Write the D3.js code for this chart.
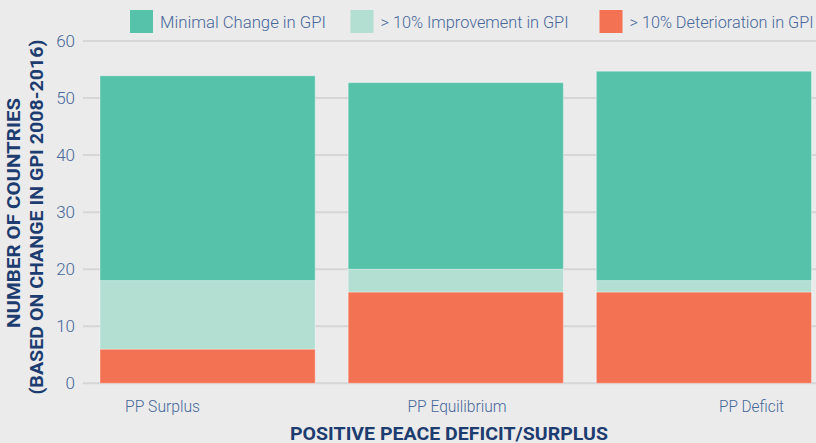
<!DOCTYPE html>
<html>
<head>
<meta charset="utf-8">
<script src="https://cdn.jsdelivr.net/npm/d3@7"></script>
<style>
  html, body { margin: 0; padding: 0; background: #ebebeb; }
  svg { display: block; }
  text { font-family: Roboto, "Open Sans", sans-serif; }
</style>
</head>
<body>
<svg id="chart" width="816" height="443"></svg>
<script>
// Countries by change in GPI (2008-2016), grouped by Positive Peace position
const categories = ["PP Surplus", "PP Equilibrium", "PP Deficit"];
const seriesNames = ["> 10% Deterioration in GPI", "> 10% Improvement in GPI", "Minimal Change in GPI"];
const deterioration = [6, 16, 16];
const improvement = [12, 4, 2];
const minimalChange = [35.9, 32.7, 36.7];
const yTicks = [0, 10, 20, 30, 40, 50, 60];
const legendOrder = ["Minimal Change in GPI", "> 10% Improvement in GPI", "> 10% Deterioration in GPI"];

const colors = {
  "Minimal Change in GPI": "#56c2aa",
  "> 10% Improvement in GPI": "#b2dfd2",
  "> 10% Deterioration in GPI": "#f37254"
};

const W = 816, H = 443;
const svg = d3.select("#chart");

const rows = categories.map((c, i) => ({
  category: c,
  "> 10% Deterioration in GPI": deterioration[i],
  "> 10% Improvement in GPI": improvement[i],
  "Minimal Change in GPI": minimalChange[i]
}));
const stacked = d3.stack().keys(seriesNames)(rows);

const y = d3.scaleLinear().domain([0, 60]).range([383.3, 41]);
const x = d3.scaleBand().domain(categories).range([83.5, 828]).paddingInner(0.133).paddingOuter(0.0665);
// category labels sit on their own evenly spaced positions
const xLabel = d3.scalePoint().domain(categories).range([162, 751]);
const labelW = [75, 99, 65];

// grid lines
svg.append("g").selectAll("line").data(yTicks).join("line")
  .attr("x1", 83).attr("x2", W)
  .attr("y1", d => y(d)).attr("y2", d => y(d))
  .attr("stroke", "#d6d6d6").attr("stroke-width", 2);

// y tick labels
const yAxis = d3.axisLeft(y).tickValues(yTicks).tickSize(0).tickPadding(0);
const gy = svg.append("g").attr("transform", "translate(75,0)").call(yAxis);
gy.select(".domain").remove();
gy.selectAll("text")
  .attr("fill", "#46679a").attr("font-size", 17).attr("font-weight", 300)
  .style("font-family", "Roboto, sans-serif");

// stacked bars
svg.append("g").selectAll("g").data(stacked).join("g")
  .attr("fill", d => colors[d.key])
  .selectAll("rect").data(d => d).join("rect")
  .attr("x", d => x(d.data.category))
  .attr("width", x.bandwidth())
  .attr("y", d => y(d[1]))
  .attr("height", d => y(d[0]) - y(d[1]))
  .attr("stroke", "rgba(255,255,255,0.35)").attr("stroke-width", 1);

// category labels
const xAxis = d3.axisBottom(xLabel).tickSize(0).tickPadding(0);
const gx = svg.append("g").attr("transform", "translate(0,401)").call(xAxis);
gx.select(".domain").remove();
gx.selectAll("text")
  .attr("fill", "#46679a").attr("font-size", 16).attr("font-weight", 300)
  .attr("textLength", (d, i) => labelW[i]).attr("lengthAdjust", "spacingAndGlyphs")
  .style("font-family", "Roboto, sans-serif");

// axis titles
svg.append("text")
  .attr("x", 449).attr("y", 440)
  .attr("text-anchor", "middle")
  .attr("fill", "#1d3c70").attr("font-size", 18).attr("font-weight", 700)
  .attr("textLength", 318).attr("lengthAdjust", "spacingAndGlyphs")
  .text("POSITIVE PEACE DEFICIT/SURPLUS");

const yTitle = svg.append("g").attr("transform", "translate(0,213) rotate(-90)");
yTitle.append("text")
  .attr("x", 0).attr("y", 20)
  .attr("text-anchor", "middle")
  .attr("fill", "#1d3c70").attr("font-size", 19).attr("font-weight", 700)
  .attr("textLength", 230).attr("lengthAdjust", "spacingAndGlyphs")
  .text("NUMBER OF COUNTRIES");
yTitle.append("text")
  .attr("x", -4).attr("y", 43)
  .attr("text-anchor", "middle")
  .attr("fill", "#1d3c70").attr("font-size", 19).attr("font-weight", 700)
  .attr("textLength", 355).attr("lengthAdjust", "spacingAndGlyphs")
  .text("(BASED ON CHANGE IN GPI 2008-2016)");

// legend
const legendX = [130, 350.5, 599.5];
const legendW = [166, 188, 184];
const lg = svg.append("g").selectAll("g").data(legendOrder).join("g")
  .attr("transform", (d, i) => `translate(${legendX[i]},10)`);
lg.append("rect").attr("width", 23).attr("height", 23).attr("fill", d => colors[d]);
lg.append("text")
  .attr("x", 30).attr("y", 17.5)
  .attr("fill", "#46679a").attr("font-size", 16).attr("font-weight", 300)
  .attr("textLength", (d, i) => legendW[i]).attr("lengthAdjust", "spacingAndGlyphs")
  .text(d => d);
</script>
</body>
</html>
